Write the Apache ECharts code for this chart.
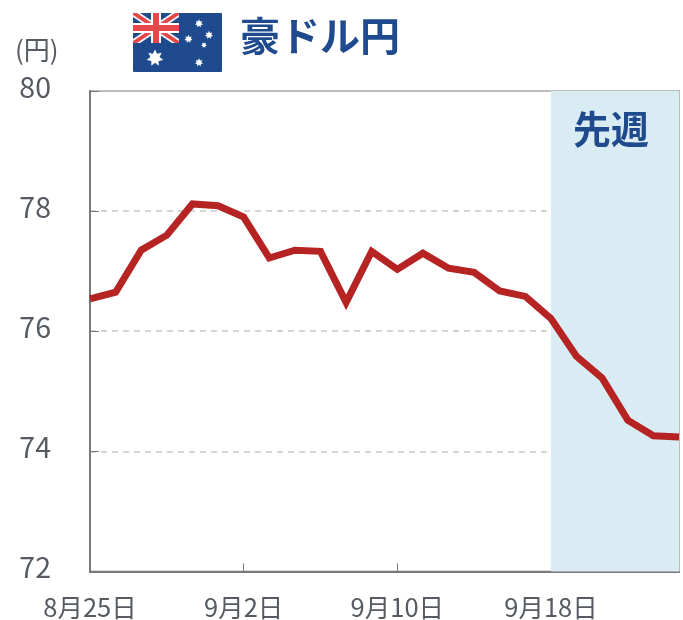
<!DOCTYPE html>
<html lang="ja" style="height: 100%">
<head>
	<meta charset="utf-8">
	<title>豪ドル円</title>
	<script src="https://cdn.jsdelivr.net/npm/echarts@6/dist/echarts.min.js"></script>
</head>
<body style="height: 100%; margin: 0; background: #fff">
<div id="container" style="width: 683px; height: 620px"></div>
<script type="text/javascript">
	var titleText = '豪ドル円';
	var unitText = '(円)';
	var shadeText = '先週';
	var categories = ['8月25日', '8月26日', '8月27日', '8月28日', '8月29日', '9月1日', '9月2日', '9月3日',
		'9月4日', '9月5日', '9月8日', '9月9日', '9月10日', '9月11日', '9月12日', '9月15日', '9月16日', '9月17日',
		'9月18日', '9月19日', '9月22日', '9月23日', '9月24日', '9月25日'];
	var rates = [76.54, 76.65, 77.35, 77.6, 78.12, 78.09, 77.9, 77.22,
		77.35, 77.33, 76.48, 77.33, 77.03, 77.3, 77.05, 76.98, 76.67, 76.58,
		76.21, 75.58, 75.22, 74.52, 74.26, 74.24];
	var shadeStart = '9月18日';
	var shadeEnd = '9月25日';
	var labelledDates = ['8月25日', '9月2日', '9月10日', '9月18日'];
	var tickDates = ['9月2日', '9月10日', '9月18日'];

	var navy = '#1f4b8e';
	var flagRed = '#e6474b';
	var textGray = '#555b60';
	var fontName = '"Noto Sans CJK JP", sans-serif';

	// 国旗の星(graphicにstarが無いのでpolygonで作る)
	function star(x, y, r) {
		var points = [];
		for (var i = 0; i < 14; i++) {
			var d = i % 2 == 0 ? r : r * 0.55;
			var a = Math.PI * i / 7 - Math.PI / 2;
			points.push([x + d * Math.cos(a), y + d * Math.sin(a)]);
		}
		return { type: 'polygon', shape: { points: points }, style: { fill: '#fff' } };
	}

	// ユニオンジャック部分の斜め帯
	function band(points, color) {
		return { type: 'polygon', shape: { points: points }, style: { fill: color } };
	}

	var flag = [
		{ type: 'rect', shape: { x: 133, y: 13, width: 89, height: 59, r: 1 }, style: { fill: navy } },
		band([[133, 13], [140, 13], [179, 39], [179, 43], [172, 43], [133, 17]], '#fff'),
		band([[179, 13], [172, 13], [133, 39], [133, 43], [140, 43], [179, 17]], '#fff'),
		band([[133, 13], [137, 13], [179, 41], [179, 43], [175, 43], [133, 15]], flagRed),
		band([[179, 13], [175, 13], [133, 41], [133, 43], [137, 43], [179, 15]], flagRed),
		{ type: 'rect', shape: { x: 133, y: 23, width: 46, height: 10 }, style: { fill: '#fff' } },
		{ type: 'rect', shape: { x: 151, y: 13, width: 10, height: 30 }, style: { fill: '#fff' } },
		{ type: 'rect', shape: { x: 133, y: 25, width: 46, height: 6 }, style: { fill: flagRed } },
		{ type: 'rect', shape: { x: 153, y: 13, width: 6, height: 30 }, style: { fill: flagRed } },
		star(155, 58, 8.5),
		star(199, 23.5, 4.2),
		star(209, 35, 4.2),
		star(188.5, 39, 4.2),
		star(204, 45, 3),
		star(199, 62.5, 4.2)
	];

	var myChart = echarts.init(document.getElementById('container'));

	var option = {
		animation: false,
		backgroundColor: '#fff',
		textStyle: { fontFamily: fontName },
		grid: {
			left: 90, right: 4, top: 91, bottom: 48, containLabel: false,
			show: true, borderColor: '#bcbcbc', borderWidth: 2
		},
		graphic: flag.concat([
			{
				type: 'text', left: 240, top: 16,
				style: { text: titleText, fill: navy, font: 'bold 40px ' + fontName }
			},
			{
				type: 'text', left: 15, top: 37,
				style: { text: unitText, fill: textGray, font: '26px ' + fontName }
			}
		]),
		xAxis: {
			type: 'category',
			data: categories,
			boundaryGap: false,
			axisLine: { lineStyle: { color: '#77797c', width: 2 } },
			axisTick: {
				inside: true,
				length: 8,
				lineStyle: { color: '#77797c', width: 1 },
				interval: function (index, value) { return tickDates.indexOf(value) >= 0; }
			},
			axisLabel: {
				color: textGray,
				fontSize: 25.5,
				margin: 23,
				interval: function (index, value) { return labelledDates.indexOf(value) >= 0; }
			},
			splitLine: { show: false }
		},
		yAxis: {
			type: 'value',
			min: 72,
			max: 80,
			interval: 2,
			axisLine: { show: true, lineStyle: { color: '#77797c', width: 2 } },
			axisTick: { show: true, inside: true, length: 9, lineStyle: { color: '#77797c', width: 1 } },
			axisLabel: { color: textGray, fontSize: 28.5, margin: 39, verticalAlign: 'bottom', lineHeight: 8 },
			splitLine: {
				showMinLine: false,
				showMaxLine: false,
				lineStyle: { color: '#c8c8c8', width: 1.5, type: [6, 5] }
			}
		},
		series: [{
			type: 'line',
			data: rates,
			symbol: 'none',
			smooth: false,
			lineStyle: { color: '#b52323', width: 7, join: 'miter' },
			markArea: {
				silent: true,
				itemStyle: { color: '#d9ebf3' },
				label: {
					show: true,
					position: 'insideTop',
					distance: 19,
					offset: [-4, 0],
					color: navy,
					fontWeight: 'bold',
					fontSize: 38,
					fontFamily: fontName
				},
				data: [[{ name: shadeText, xAxis: shadeStart }, { xAxis: shadeEnd }]]
			}
		}]
	};

	myChart.setOption(option);
</script>
</body>
</html>
